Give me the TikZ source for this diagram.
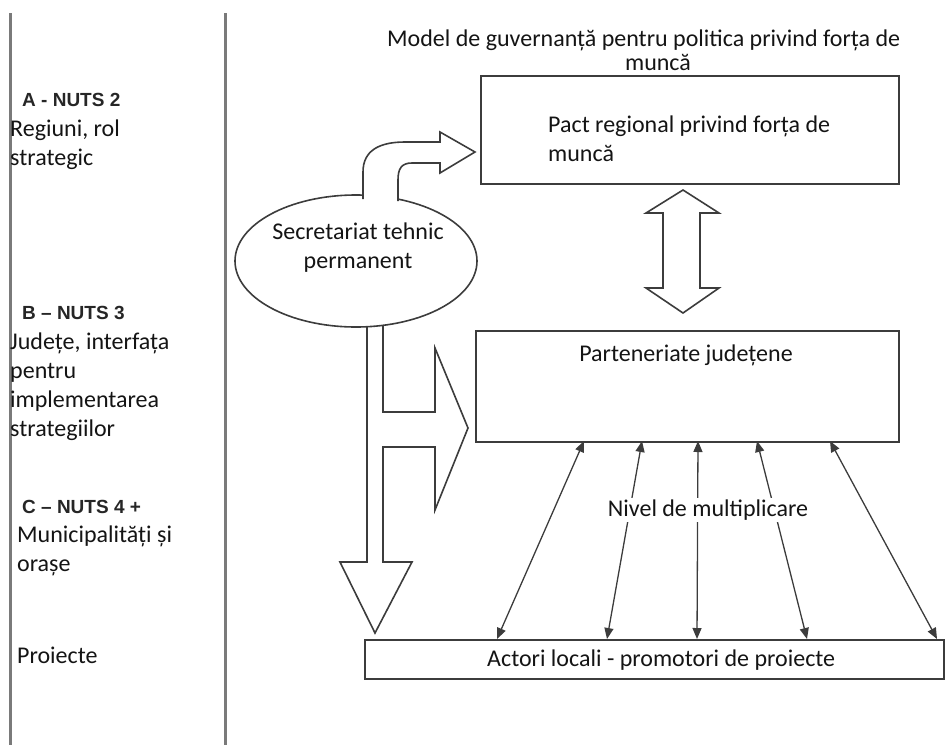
\documentclass[tikz,border=0pt]{standalone}
\usepackage{fontspec}
\setmainfont{Carlito}
\newfontfamily\headfont{Liberation Sans}
\usetikzlibrary{arrows.meta,shapes.geometric}
\definecolor{linegray}{HTML}{3C3C3C}
\definecolor{leftgray}{HTML}{7A7A7A}
\definecolor{txt}{HTML}{141414}
\definecolor{headgray}{HTML}{262626}
\begin{document}
\begin{tikzpicture}[x=1pt,y=-1pt,line join=miter,
  box/.style={draw=linegray,line width=1.6pt,inner sep=0pt,anchor=north west},
  lbl/.style={inner sep=0pt,font=\fontsize{24}{29}\selectfont,text=txt,align=left},
  headlbl/.style={inner sep=0pt,font=\headfont\bfseries\fontsize{19}{22}\selectfont,text=headgray,anchor=west},
  link/.style={draw=linegray,line width=1.3pt,{Triangle[length=11pt,width=9pt]}-{Triangle[length=11pt,width=9pt]}},
  blockarrow/.style={draw=linegray,line width=1.6pt,fill=white},
  sideline/.style={draw=leftgray,line width=3pt}]
\useasboundingbox (0,0) rectangle (948,745);

% left column separators
\coordinate (l1a) at (10,13); \coordinate (l1b) at (10,745);
\coordinate (l2a) at (225,13); \coordinate (l2b) at (225,745);
\draw[sideline] (l1a) -- (l1b);
\draw[sideline] (l2a) -- (l2b);

% left column texts
\node[headlbl] (ha) at (22,100) {A - NUTS 2};
\node[lbl,anchor=west] (ta) at (10,145) {Regiuni, rol\\strategic};
\node[headlbl] (hb) at (22,313) {B – NUTS 3};
\node[lbl,anchor=west] (tb) at (10,386.5) {Județe, interfața\\pentru\\implementarea\\strategiilor};
\node[headlbl] (hc) at (22,507) {C – NUTS 4 +};
\node[lbl,anchor=west] (tc) at (17,551) {Municipalități și\\orașe};
\node[lbl,anchor=west] (td) at (17,655) {Proiecte};

% title
\node[lbl,anchor=west] (title1) at (387,40) {Model de guvernanță pentru politica privind forța de};
\node[lbl] (title2) at (658,62) {muncă};

% boxes
\node[box,minimum width=418pt,minimum height=108pt] (pact) at (480,75) {};
\node[lbl,anchor=west] (pacttext) at (548,139) {Pact regional privind forța de\\muncă};
\node[box,minimum width=423pt,minimum height=111pt] (part) at (475,330) {};
\node[lbl] (parttext) at (686,355) {Parteneriate județene};
\node[box,minimum width=579pt,minimum height=39pt] (act) at (364,639) {};
\node[lbl,anchor=west] (acttext) at (487,660) {Actori locali - promotori de proiecte};

% double block arrow between pact and partnerships
\draw[blockarrow] (683,190) -- (719,213) -- (700,213) -- (700,288) -- (719,288)
  -- (683,313) -- (646,288) -- (663,288) -- (663,213) -- (646,213) -- cycle;

% T-shaped block arrow from secretariat
\draw[blockarrow] (367,326.5) -- (367,562) -- (340,562) -- (375,633) -- (412,562)
  -- (383,562) -- (383,447) -- (435,447) -- (435,510) -- (468,428) -- (435,348)
  -- (435,412) -- (383,412) -- (383,325.5);

% secretariat ellipse
\node[draw=linegray,line width=1.6pt,ellipse,minimum width=242pt,minimum height=132pt,inner sep=0pt] (sec) at (356,261) {};
\node[lbl,align=center] (sectext) at (358,248) {Secretariat tehnic\\permanent};

% curved block arrow to pact
\draw[blockarrow] (363,199) -- (363,172) .. controls (363,150) and (380,142) .. (405,142)
  -- (440,142) -- (440,132) -- (475,152) -- (440,173) -- (440,163) -- (412,163)
  .. controls (402,163) and (398,168) .. (398,180) -- (398,201);

% multiplication links
\coordinate (t1) at (584,441); \coordinate (b1) at (497,639);
\coordinate (t2) at (642,441); \coordinate (b2) at (607,639);
\coordinate (t3) at (698,441); \coordinate (b3) at (697,639);
\coordinate (t4) at (757,441); \coordinate (b4) at (807,639);
\coordinate (t5) at (830,441); \coordinate (b5) at (937,639);
\foreach \i in {1,...,5} {\draw[link] (t\i) -- (b\i);}
\node[lbl,fill=white,inner sep=2pt] (nivel) at (708,510) {Nivel de multiplicare};
\end{tikzpicture}
\end{document}
